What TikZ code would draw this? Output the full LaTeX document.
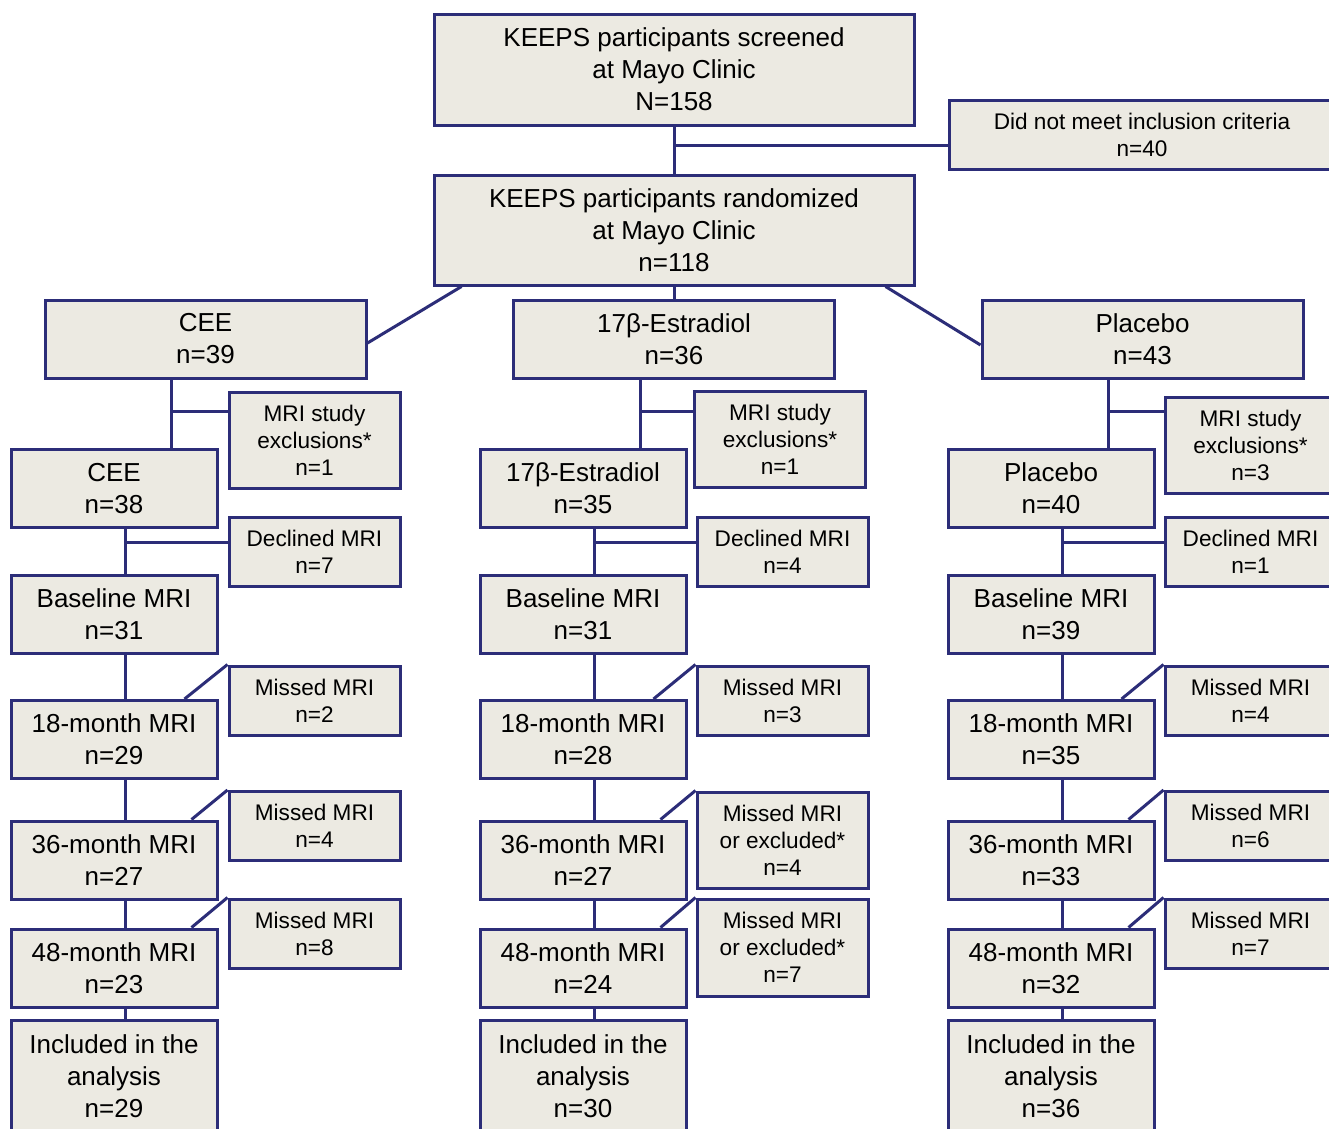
\documentclass[tikz,border=0pt]{standalone}
\usepackage{fontspec}
\setmainfont{Liberation Sans}
\usepackage{xcolor}
\usetikzlibrary{calc}

\definecolor{boxfill}{RGB}{236,234,226}
\definecolor{navy}{RGB}{44,45,120}
\newcommand{\bigtxt}{\fontsize{26}{32}\selectfont}
\newcommand{\smalltxt}{\fontsize{22.6}{27}\selectfont}

\begin{document}
\begin{tikzpicture}[x=1pt, y=-1pt,
	box/.style={draw=navy, fill=boxfill, line width=3pt, align=center, inner sep=0pt},
	bigbox/.style={box, font=\bigtxt},
	smallbox/.style={box, font=\smalltxt},
	armbox/.style={bigbox, minimum width=321, minimum height=78},
	stagebox/.style={bigbox, minimum width=206, minimum height=78},
	sidebox/.style={smallbox, minimum width=171, minimum height=69},
	link/.style={navy, line width=3pt}]
		%page frame
		\useasboundingbox (0,0) rectangle (1329,1128);
		\clip (0,0) rectangle (1329,1128);
		\fill [white] (0,0) rectangle (1329,1128);
		
		%screening and randomization
		\node [bigbox, minimum width=480, minimum height=111] (screen) at (674,69.5) {KEEPS participants screened\\at Mayo Clinic\\N=158};
		\node [smallbox, minimum width=386, minimum height=69] (notmet) at (1142,134.5) {Did not meet inclusion criteria\\n=40};
		\node [bigbox, minimum width=480, minimum height=110] (rand) at (674,230) {KEEPS participants randomized\\at Mayo Clinic\\n=118};
		
		\coordinate (jn) at (674,145);
		\draw [link] (screen.south) -- (rand.north);
		\draw [link] (jn) -- (notmet.west |- jn);
		
		%treatment arms
		\node [armbox] (armA) at (205.5,339) {CEE\\n=39};
		\node [armbox] (armB) at (674,339) {17β-Estradiol\\n=36};
		\node [armbox] (armC) at (1142.5,339) {Placebo\\n=43};
		
		\draw [link] ($(rand.south west)+(29,0)$) -- ($(armA.east)+(0,4)$);
		\draw [link] (rand.south) -- (armB.north);
		\draw [link] ($(rand.south east)+(-30,0)$) -- ($(armC.west)+(0,6)$);
		
		%CEE column
		\node [stagebox] (grpA) at (114,488.5) {CEE\\n=38};
		\node [stagebox] (baseA) at (114,614) {Baseline MRI\\n=31};
		\node [stagebox] (m18A) at (114,739.5) {18-month MRI\\n=29};
		\node [stagebox] (m36A) at (114,860) {36-month MRI\\n=27};
		\node [stagebox] (m48A) at (114,968) {48-month MRI\\n=23};
		\node [stagebox, minimum height=112] (inclA) at (114,1076) {Included in the\\analysis\\n=29};
		
		\node [sidebox, minimum height=96] (excA) at (314.5,440) {MRI study\\exclusions*\\n=1};
		\node [sidebox] (decA) at (314.5,551.5) {Declined MRI\\n=7};
		\node [sidebox] (mis18A) at (314.5,700.5) {Missed MRI\\n=2};
		\node [sidebox] (mis36A) at (314.5,826) {Missed MRI\\n=4};
		\node [sidebox] (mis48A) at (314.5,933.5) {Missed MRI\\n=8};
		
		%17beta-estradiol column
		\node [stagebox] (grpB) at (583,488.5) {17β-Estradiol\\n=35};
		\node [stagebox] (baseB) at (583,614) {Baseline MRI\\n=31};
		\node [stagebox] (m18B) at (583,739.5) {18-month MRI\\n=28};
		\node [stagebox] (m36B) at (583,860) {36-month MRI\\n=27};
		\node [stagebox] (m48B) at (583,968) {48-month MRI\\n=24};
		\node [stagebox, minimum height=112] (inclB) at (583,1076) {Included in the\\analysis\\n=30};
		
		\node [sidebox, minimum height=96] (excB) at (780,439) {MRI study\\exclusions*\\n=1};
		\node [sidebox] (decB) at (782.5,551.5) {Declined MRI\\n=4};
		\node [sidebox] (mis18B) at (782.5,700.5) {Missed MRI\\n=3};
		\node [sidebox, minimum height=96] (mis36B) at (782.5,840) {Missed MRI\\or excluded*\\n=4};
		\node [sidebox, minimum height=97] (mis48B) at (782.5,947.5) {Missed MRI\\or excluded*\\n=7};
		
		%placebo column
		\node [stagebox] (grpC) at (1051,488.5) {Placebo\\n=40};
		\node [stagebox] (baseC) at (1051,614) {Baseline MRI\\n=39};
		\node [stagebox] (m18C) at (1051,739.5) {18-month MRI\\n=35};
		\node [stagebox] (m36C) at (1051,860) {36-month MRI\\n=33};
		\node [stagebox] (m48C) at (1051,968) {48-month MRI\\n=32};
		\node [stagebox, minimum height=112] (inclC) at (1051,1076) {Included in the\\analysis\\n=36};
		
		\node [sidebox, minimum height=96] (excC) at (1250.5,445) {MRI study\\exclusions*\\n=3};
		\node [sidebox] (decC) at (1250.5,551.5) {Declined MRI\\n=1};
		\node [sidebox] (mis18C) at (1250.5,700.5) {Missed MRI\\n=4};
		\node [sidebox] (mis36C) at (1250.5,826) {Missed MRI\\n=6};
		\node [sidebox] (mis48C) at (1250.5,933.5) {Missed MRI\\n=7};
		
		%connectors inside each column
		\foreach \c in {A,B,C} {
			\coordinate (x\c) at ($(grp\c.north)+(57,-37)$);
			\coordinate (y\c) at ($(grp\c.south)+(11.5,13)$);
			\draw [link] (arm\c.south -| x\c) -- (grp\c.north -| x\c);
			\draw [link] (x\c) -- (exc\c.west |- x\c);
			\draw [link] (grp\c.south -| y\c) -- (base\c.north -| y\c);
			\draw [link] (y\c) -- (dec\c.west |- y\c);
			\draw [link] (base\c.south -| y\c) -- (m18\c.north -| y\c);
			\draw [link] (m18\c.south -| y\c) -- (m36\c.north -| y\c);
			\draw [link] (m36\c.south -| y\c) -- (m48\c.north -| y\c);
			\draw [link] (m48\c.south -| y\c) -- (incl\c.north -| y\c);
			\draw [link] ($(m18\c.north east)+(-34,0)$) -- (mis18\c.north west);
			\draw [link] ($(m36\c.north east)+(-27,0)$) -- (mis36\c.north west);
			\draw [link] ($(m48\c.north east)+(-27,0)$) -- (mis48\c.north west);
		}
	\end{tikzpicture}
\end{document}
